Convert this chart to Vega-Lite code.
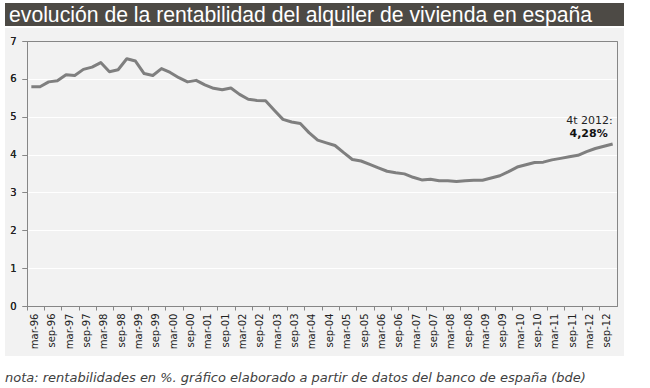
{
  "$schema": "https://vega.github.io/schema/vega-lite/v6.json",
  "padding": {"left": 5, "top": 3, "right": 0, "bottom": 0},
  "background": "white",
  "spacing": 1,
  "config": {"view": {"stroke": null}},
  "vconcat": [
    {
      "width": 619,
      "height": 23,
      "view": {"fill": "#4d4a45", "stroke": null},
      "data": {"values": [{"t": "evolución de la rentabilidad del alquiler de vivienda en españa", "p": 0}]},
      "mark": {"type": "text", "align": "left", "baseline": "alphabetic", "dx": 4, "dy": 7.5, "color": "#ffffff", "font": "Liberation Sans", "fontSize": 21.2},
      "encoding": {
        "x": {"field": "p", "type": "quantitative", "scale": {"domain": [0, 619]}, "axis": null},
        "text": {"field": "t"}
      }
    },
    {
      "width": 619,
      "height": 328,
      "view": {"fill": "#f2f2f2", "stroke": null},
      "title": {"text": "nota: rentabilidades en %. gráfico elaborado a partir de datos del banco de españa (bde)", "orient": "bottom", "anchor": "start", "offset": 16, "font": "DejaVu Sans", "fontSize": 13, "fontStyle": "italic", "fontWeight": "normal", "color": "#404040"},
      "data": {"values": [
        {"q": "mar-96", "v": 5.79}, {"q": "jun-96", "v": 5.79}, {"q": "sep-96", "v": 5.92}, {"q": "dic-96", "v": 5.95},
        {"q": "mar-97", "v": 6.11}, {"q": "jun-97", "v": 6.09}, {"q": "sep-97", "v": 6.25}, {"q": "dic-97", "v": 6.31},
        {"q": "mar-98", "v": 6.43}, {"q": "jun-98", "v": 6.19}, {"q": "sep-98", "v": 6.24}, {"q": "dic-98", "v": 6.53},
        {"q": "mar-99", "v": 6.47}, {"q": "jun-99", "v": 6.14}, {"q": "sep-99", "v": 6.09}, {"q": "dic-99", "v": 6.27},
        {"q": "mar-00", "v": 6.17}, {"q": "jun-00", "v": 6.03}, {"q": "sep-00", "v": 5.92}, {"q": "dic-00", "v": 5.96},
        {"q": "mar-01", "v": 5.84}, {"q": "jun-01", "v": 5.75}, {"q": "sep-01", "v": 5.71}, {"q": "dic-01", "v": 5.76},
        {"q": "mar-02", "v": 5.59}, {"q": "jun-02", "v": 5.46}, {"q": "sep-02", "v": 5.43}, {"q": "dic-02", "v": 5.42},
        {"q": "mar-03", "v": 5.17}, {"q": "jun-03", "v": 4.93}, {"q": "sep-03", "v": 4.86}, {"q": "dic-03", "v": 4.82},
        {"q": "mar-04", "v": 4.58}, {"q": "jun-04", "v": 4.38}, {"q": "sep-04", "v": 4.31}, {"q": "dic-04", "v": 4.24},
        {"q": "mar-05", "v": 4.05}, {"q": "jun-05", "v": 3.87}, {"q": "sep-05", "v": 3.83}, {"q": "dic-05", "v": 3.74},
        {"q": "mar-06", "v": 3.65}, {"q": "jun-06", "v": 3.56}, {"q": "sep-06", "v": 3.52}, {"q": "dic-06", "v": 3.49},
        {"q": "mar-07", "v": 3.40}, {"q": "jun-07", "v": 3.33}, {"q": "sep-07", "v": 3.35}, {"q": "dic-07", "v": 3.31},
        {"q": "mar-08", "v": 3.31}, {"q": "jun-08", "v": 3.29}, {"q": "sep-08", "v": 3.31}, {"q": "dic-08", "v": 3.32},
        {"q": "mar-09", "v": 3.32}, {"q": "jun-09", "v": 3.38}, {"q": "sep-09", "v": 3.44}, {"q": "dic-09", "v": 3.55},
        {"q": "mar-10", "v": 3.67}, {"q": "jun-10", "v": 3.73}, {"q": "sep-10", "v": 3.79}, {"q": "dic-10", "v": 3.80},
        {"q": "mar-11", "v": 3.86}, {"q": "jun-11", "v": 3.90}, {"q": "sep-11", "v": 3.94}, {"q": "dic-11", "v": 3.98},
        {"q": "mar-12", "v": 4.08}, {"q": "jun-12", "v": 4.16}, {"q": "sep-12", "v": 4.22}, {"q": "dic-12", "v": 4.28}
      ]},
      "encoding": {
        "x": {
          "field": "q", "type": "ordinal", "sort": null,
          "scale": {"type": "band", "paddingInner": 0, "paddingOuter": 0, "range": [22, 612]},
          "axis": {
            "orient": "bottom", "offset": -50, "title": null, "grid": false,
            "labelExpr": "(indexof(datum.label, 'mar') === 0 || indexof(datum.label, 'sep') === 0) ? datum.label : ''",
            "tickOpacity": {"condition": {"test": "indexof(datum.value, 'mar') === 0 || indexof(datum.value, 'sep') === 0", "value": 1}, "value": 0},
            "bandPosition": 0, "labelOffset": 3.5, "labelAngle": -90, "labelAlign": "right", "labelBaseline": "middle",
            "labelPadding": 3, "tickSize": 4, "tickColor": "#868686", "domainColor": "#868686",
            "labelFont": "DejaVu Sans", "labelFontSize": 10, "labelColor": "#222222", "labelOverlap": false
          }
        },
        "y": {
          "field": "v", "type": "quantitative",
          "scale": {"domain": [0, 7], "range": [278, 13], "nice": false, "zero": true},
          "axis": {
            "orient": "left", "offset": -22, "title": null, "values": [0, 1, 2, 3, 4, 5, 6, 7],
            "grid": true,
            "gridColor": {"condition": {"test": "datum.value === 0 || datum.value === 7", "value": "#868686"}, "value": "#ffffff"},
            "domainColor": "#868686", "tickColor": "#868686", "tickSize": 5, "labelPadding": 6,
            "labelFont": "DejaVu Sans", "labelFontSize": 10, "labelColor": "#222222"
          }
        }
      },
      "layer": [
        {
          "mark": {"type": "line", "color": "#7f7f7f", "strokeWidth": 3, "strokeJoin": "round"}
        },
        {
          "transform": [{"filter": "datum.q === 'dic-12'"}],
          "mark": {"type": "text", "text": "4t 2012:", "align": "right", "baseline": "middle", "dx": 0, "dy": -23, "font": "DejaVu Sans", "fontSize": 11, "color": "#222222"}
        },
        {
          "transform": [{"filter": "datum.q === 'dic-12'"}],
          "mark": {"type": "text", "text": "4,28%", "align": "right", "baseline": "middle", "dx": -5, "dy": -10, "font": "DejaVu Sans", "fontSize": 11, "fontWeight": "bold", "color": "#111111"},
          "encoding": {
            "y": {"field": "v", "type": "quantitative", "axis": {"orient": "right", "offset": -7, "title": null, "labels": false, "ticks": false, "grid": false, "domainColor": "#868686"}}
          }
        }
      ]
    }
  ]
}
